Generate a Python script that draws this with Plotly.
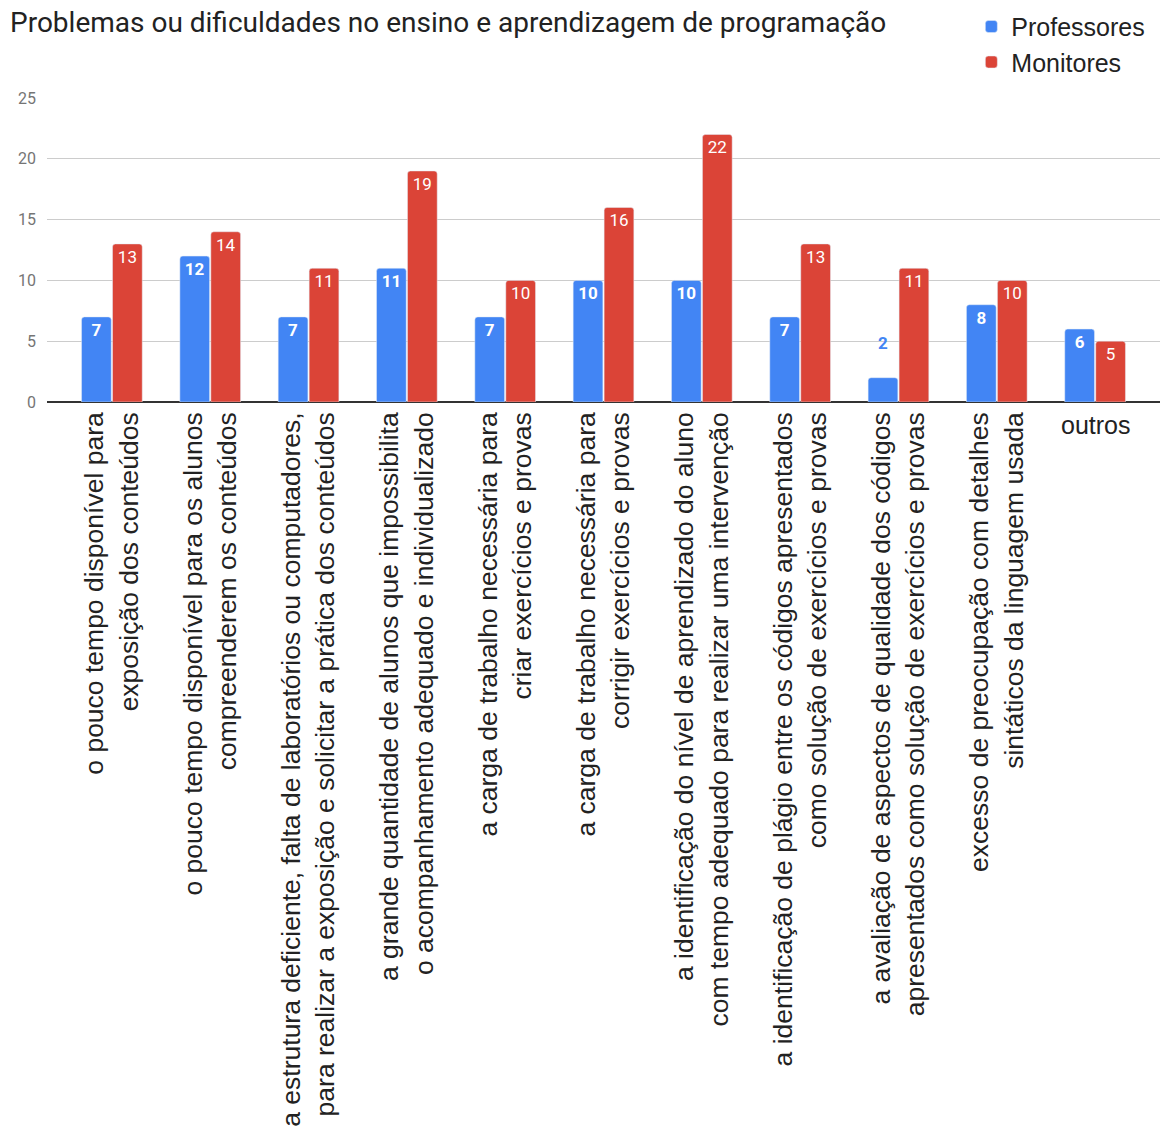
import plotly.graph_objects as go

# Problem categories (each split into two display lines)
categories = [
    "o pouco tempo disponível para<br>exposição dos conteúdos",
    "o pouco tempo disponível para os alunos<br>compreenderem os conteúdos",
    "a estrutura deficiente, falta de laboratórios ou computadores,<br>para realizar a exposição e solicitar a prática dos conteúdos",
    "a grande quantidade de alunos que impossibilita<br>o acompanhamento adequado e individualizado",
    "a carga de trabalho necessária para<br>criar exercícios e provas",
    "a carga de trabalho necessária para<br>corrigir exercícios e provas",
    "a identificação do nível de aprendizado do aluno<br>com tempo adequado para realizar uma intervenção",
    "a identificação de plágio entre os códigos apresentados<br>como solução de exercícios e provas",
    "a avaliação de aspectos de qualidade dos códigos<br>apresentados como solução de exercícios e provas",
    "excesso de preocupação com detalhes<br>sintáticos da linguagem usada",
    "outros",
]
professores = [7, 12, 7, 11, 7, 10, 10, 7, 2, 8, 6]
monitores = [13, 14, 11, 19, 10, 16, 22, 13, 11, 10, 5]
y_ticks = [0, 5, 10, 15, 20, 25]

BLUE = "#4285F4"
RED = "#DB4437"
LABEL_FONT = "Liberation Sans, Arial, sans-serif"
UI_FONT = "Roboto, sans-serif"


def label_positions(values, small=3):
    return ["outside" if v < small else "inside" for v in values]


def label_colors(values, base, small=3):
    return [base if v < small else "white" for v in values]


def label_texts(values, small=3):
    # short bars carry their value well above the bar top
    return [f"{v}<br> " if v < small else f"{v}" for v in values]


fig = go.Figure()
fig.add_trace(go.Bar(
    name="Professores", x=categories, y=professores, marker_color=BLUE,
    text=label_texts(professores), textposition=label_positions(professores),
    insidetextanchor="end", cliponaxis=False,
    textfont=dict(family=UI_FONT, size=17, color=label_colors(professores, BLUE), weight="bold"),
))
fig.add_trace(go.Bar(
    name="Monitores", x=categories, y=monitores, marker_color=RED,
    text=label_texts(monitores), textposition=label_positions(monitores),
    insidetextanchor="end", cliponaxis=False,
    textfont=dict(family=UI_FONT, size=17, color=label_colors(monitores, RED)),
))

# "outros" is short enough to be written horizontally
tick_text = [c if c != "outros" else "" for c in categories]
fig.add_annotation(
    x="outros", xref="x", y=0, yref="y", yshift=-7, yanchor="top",
    text="outros", showarrow=False,
    font=dict(family=LABEL_FONT, size=25, color="#222222"),
)

fig.update_layout(
    width=1164, height=1131,
    margin=dict(l=47, r=4, t=95, b=727),
    paper_bgcolor="white", plot_bgcolor="white",
    barmode="group", bargap=0.37, bargroupgap=0.04, barcornerradius=3,
    title=dict(
        text="Problemas ou dificuldades no ensino e aprendizagem de programação",
        x=10 / 1164, xref="container", xanchor="left",
        y=1 - 22 / 1131, yref="container", yanchor="middle",
        font=dict(family=UI_FONT, size=28, color="#222222"),
    ),
    legend=dict(
        x=0.8305, xanchor="left", y=1.31, yanchor="top",
        font=dict(family=LABEL_FONT, size=25, color="#222222"),
        tracegroupgap=0, itemwidth=30, bgcolor="rgba(0,0,0,0)",
    ),
    showlegend=True,
)
fig.update_xaxes(
    type="category", range=[-0.66, 10.66],
    tickmode="array", tickvals=categories, ticktext=tick_text,
    tickangle=-90, tickfont=dict(family=LABEL_FONT, size=26.5, color="#222222"),
    showgrid=False, showline=False, ticks="", ticklabelstandoff=4,
)
fig.update_yaxes(
    range=[0, 25], tickvals=y_ticks,
    showgrid=True, gridcolor="#cccccc", gridwidth=1,
    zeroline=True, zerolinecolor="#333333", zerolinewidth=1.5,
    tickfont=dict(family=UI_FONT, size=16, color="#757575"),
    ticks="", ticklabelstandoff=10,
)

fig.write_html("out.html")
